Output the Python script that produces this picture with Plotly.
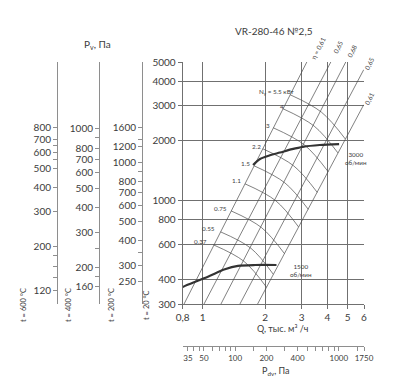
import math
import plotly.graph_objects as go

# ---------------- data ----------------
q_tickvals = [0.8, 1, 2, 3, 4, 5, 6]
q_ticktext = ["0,8", "1", "2", "3", "4", "5", "6"]
p_tickvals = [300, 400, 600, 800, 1000, 2000, 3000, 4000, 5000]
q_range = [0.8, 6.0]
p_range = [300, 5000]

# dynamic pressure scale (P_dv at Q = 6 thousand m3/h)
pdv_at_qmax = 1750
pdv_tickvals = [35, 50, 100, 200, 400, 1000, 1750]
pdv_minor = [40, 45, 60, 70, 80, 90, 150, 300, 500, 600, 700, 800, 900, 1500]

# temperature pressure scales: factor = P(t) / P(20 °C)
t600_factor = 0.343
t600_tickvals = [800, 700, 600, 500, 400, 300, 200, 120]
t600_minor = [650, 550, 180, 160, 140]
t400_factor = 0.435
t400_tickvals = [1000, 800, 700, 600, 500, 400, 300, 200, 160]
t400_minor = [900, 250, 180]
t200_factor = 0.64
t200_tickvals = [1500, 1200, 1000, 800, 700, 600, 500, 400, 300, 250]
t200_ticktext = ["1600", "1200", "1000", "800", "700", "600", "500", "400", "300", "250"]
t200_minor = [1300, 900, 350]

# fan curves
q_3000 = [1.75, 1.89, 2.11, 2.36, 2.70, 3.04, 3.67, 4.55]
p_3000 = [1510, 1620, 1690, 1745, 1815, 1865, 1905, 1925]
q_1500 = [0.80, 0.84, 1.06, 1.28, 1.48, 1.79, 2.27]
p_1500 = [365, 374, 412, 449, 467, 472, 472]

# efficiency lines (lower and upper end points)
eta_labels = ["η = 0,61", "0,65", "0,68", "0,65", "0,61"]
eta_q_low = [0.813, 1.015, 1.225, 1.512, 1.84]
eta_p_low = [300, 300, 300, 300, 300]
eta_q_high = [3.18, 4.15, 4.90, 5.98, 5.98]
eta_p_high = [5000, 5000, 5000, 4570, 3040]

# power lines N, kW (three points each)
n_labels = ["N<sub>у</sub> = 5.5 кВт", "4", "3", "2.2", "1.5", "1.1", "0.75", "0.55", "0.37"]
n_q = [[2.64, 3.74, 4.88], [2.44, 3.45, 4.49], [2.19, 3.10, 4.03], [1.95, 2.75, 3.57],
       [1.77, 2.49, 3.23], [1.60, 2.25, 2.90], [1.37, 1.92, 2.48], [1.22, 1.71, 2.19],
       [1.13, 1.58, 2.03]]
n_p = [[3418, 2790, 2041], [2904, 2373, 1738], [2327, 1904, 1397], [1823, 1494, 1098],
       [1496, 1227, 902], [1213, 997, 735], [886, 730, 539], [694, 573, 424],
       [596, 493, 365]]

rpm_labels = ["3000<br>об/мин", "1500<br>об/мин"]

# ---------------- layout helpers ----------------
W, H = 393, 384
ML, MR, MT, MB = 0, 29, 62, 0
PW, PH = W - ML - MR, H - MT - MB


def px(x):
    return (x - ML) / PW


def py(y):
    return (H - MB - y) / PH


FONT = "Lato, 'Open Sans', sans-serif"
TXT = "#3c3c3c"
GRID = "#707070"
AX = "#8e8e8e"
MESH = "#4a4a4a"
CURVE = "#333333"

fig = go.Figure()

for ql, pl, qh, ph in zip(eta_q_low, eta_p_low, eta_q_high, eta_p_high):
    fig.add_trace(go.Scatter(x=[ql, qh], y=[pl, ph], mode="lines",
                             line=dict(color=MESH, width=0.7),
                             hoverinfo="skip", showlegend=False))

for qs, ps in zip(n_q, n_p):
    fig.add_trace(go.Scatter(x=qs, y=ps, mode="lines",
                             line=dict(color=MESH, width=0.7, shape="spline", smoothing=1.0),
                             hoverinfo="skip", showlegend=False))

for qs, ps in [(q_3000, p_3000), (q_1500, p_1500)]:
    fig.add_trace(go.Scatter(x=qs, y=ps, mode="lines",
                             line=dict(color=CURVE, width=2.2, shape="spline", smoothing=0.8),
                             hoverinfo="skip", showlegend=False))

# invisible anchors so that the extra scales are drawn
for ax_y, factor in [("y2", t600_factor), ("y3", t400_factor), ("y4", t200_factor)]:
    fig.add_trace(go.Scatter(x=[q_range[0]], y=[p_range[0] * factor * 2], xaxis="x", yaxis=ax_y,
                             mode="markers", marker=dict(opacity=0), hoverinfo="skip",
                             showlegend=False))
fig.add_trace(go.Scatter(x=[pdv_tickvals[0] * 2], y=[p_range[0] * 2], xaxis="x2", yaxis="y",
                         mode="markers", marker=dict(opacity=0), hoverinfo="skip",
                         showlegend=False))

tickfont = dict(family=FONT, size=10, color=TXT)


def left_axis(xpos, factor, vals, minor_vals, text=None):
    d = dict(type="log", overlaying="y", anchor="free", position=px(xpos), side="left",
             range=[math.log10(p_range[0] * factor), math.log10(p_range[1] * factor)],
             tickmode="array", tickvals=vals, ticks="outside", ticklen=4,
             tickcolor=AX, showline=True, linecolor=AX, linewidth=1, showgrid=False,
             zeroline=False, tickfont=tickfont, automargin=False,
             minor=dict(tickmode="array", tickvals=minor_vals, ticks="outside", ticklen=4,
                        tickcolor=AX, showgrid=False))
    if text is not None:
        d["ticktext"] = text
    return d


fig.update_layout(
    width=W, height=H, template="none",
    margin=dict(l=ML, r=MR, t=MT, b=MB, pad=0),
    paper_bgcolor="white", plot_bgcolor="white", showlegend=False,
    xaxis=dict(type="log", domain=[px(182.6), 1], anchor="y",
               range=[math.log10(q_range[0]), math.log10(q_range[1])],
               tickmode="array", tickvals=q_tickvals, ticktext=q_ticktext,
               ticks="outside", ticklen=4, tickcolor=GRID,
               showgrid=True, gridcolor=GRID, gridwidth=1,
               showline=True, linecolor=GRID, linewidth=1, zeroline=False,
               tickfont=tickfont, automargin=False),
    yaxis=dict(type="log", domain=[py(304), 1], anchor="x",
               range=[math.log10(p_range[0]), math.log10(p_range[1])],
               tickmode="array", tickvals=p_tickvals,
               ticks="outside", ticklen=4, tickcolor=GRID,
               showgrid=True, gridcolor=GRID, gridwidth=1,
               showline=True, linecolor=GRID, linewidth=1, zeroline=False,
               tickfont=tickfont, automargin=False),
    xaxis2=dict(type="log", overlaying="x", anchor="free", position=py(346), side="bottom",
                range=[math.log10(pdv_at_qmax * (q_range[0] / q_range[1]) ** 2),
                       math.log10(pdv_at_qmax)],
                tickmode="array", tickvals=pdv_tickvals,
                ticks="outside", ticklen=4, tickcolor=AX,
                showline=True, linecolor=AX, linewidth=1, showgrid=False, zeroline=False,
                tickfont=dict(family=FONT, size=8, color=TXT), automargin=False,
                minor=dict(tickmode="array", tickvals=pdv_minor, ticks="outside", ticklen=4,
                           tickcolor=AX, showgrid=False)),
    yaxis2=left_axis(57, t600_factor, t600_tickvals, t600_minor),
    yaxis3=left_axis(99, t400_factor, t400_tickvals, t400_minor),
    yaxis4=left_axis(142, t200_factor, t200_tickvals, t200_minor, t200_ticktext),
)

ann = []


def add_text(x, y, text, size, angle=0, color=TXT, xanchor="center"):
    ann.append(dict(x=px(x), y=py(y), xref="paper", yref="paper", text=text,
                    showarrow=False, textangle=angle, xanchor=xanchor, yanchor="middle",
                    font=dict(family=FONT, size=size, color=color)))


add_text(274, 31, "VR-280-46 №2,5", 10)
add_text(97, 45, "P<sub>v</sub>, Па", 10)
add_text(282, 328, "Q, тыс. м³ /ч", 9)
add_text(276, 371, "P<sub>dv</sub>, Па", 9)

for x, lab in zip([23, 68, 111, 146], ["t = 600 °C", "t = 400 °C", "t = 200 °C", "t = 20 °C"]):
    add_text(x, 305, lab, 7.5, angle=-90)

for (x, y), lab in zip([(318, 48), (338, 47.5), (352, 51.5), (369.5, 63.5), (369.5, 98.5)], eta_labels):
    add_text(x, y, lab, 6.5, angle=-63)

for (x, y), lab in zip([(277, 92), (282, 106), (268, 125), (256, 146), (245, 163), (236, 180),
                        (220, 208), (209, 229), (200, 242)], n_labels):
    add_text(x, y, lab, 6.3)

add_text(343, 158.5, rpm_labels[0], 6.3, xanchor="left")
add_text(288, 270.5, rpm_labels[1], 6.3, xanchor="left")

fig.update_layout(annotations=ann)
fig.write_html("out.html", config={"displayModeBar": False},
               post_script="document.body.style.margin='0px';")
